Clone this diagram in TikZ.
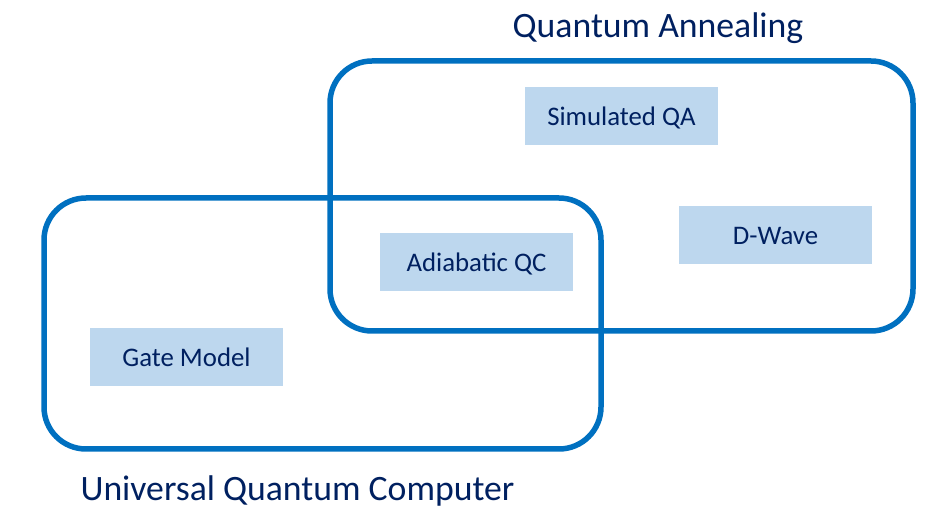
\documentclass[tikz,border=0pt]{standalone}
\usepackage{fontspec}
\setmainfont{Carlito}
\definecolor{qblue}{RGB}{0,112,192}
\definecolor{qfill}{RGB}{189,215,238}
\definecolor{qtext}{RGB}{0,32,96}

\begin{document}
\begin{tikzpicture}[
    x=1pt, y=-1pt,
    line cap=round,
    line join=round,
    setbox/.style={draw=qblue, line width=5.5pt, rounded corners=42pt, inner sep=0pt},
    method/.style={fill=qfill, minimum width=193pt, minimum height=58pt, inner sep=0pt,
                   text height=17.3pt, text depth=0pt,
                   text=qtext, font=\fontsize{26.8}{30}\selectfont},
    heading/.style={text=qtext, inner sep=0pt, anchor=base, font=\fontsize{35.7}{40}\selectfont}
]
\useasboundingbox (0,0) rectangle (935,510);

% the two sets
\node[setbox, minimum width=583pt, minimum height=270pt] (annealing) at (621.5,196) {};
\node[setbox, minimum width=557pt, minimum height=251pt] (universal) at (322.5,323.5) {};

% members
\node[method] (simqa)     at (621.5,116.5) {Simulated QA};
\node[method] (dwave)     at (775.5,235.5) {D-Wave};
\node[method] (adiabatic) at (476.5,262.5) {Adiabatic QC};
\node[method] (gate)      at (186.5,357.5) {Gate Model};

% set names
\node[heading] (annealname)    at (658,38)    {Quantum Annealing};
\node[heading] (universalname) at (297.5,500.5) {Universal Quantum Computer};
\end{tikzpicture}
\end{document}
